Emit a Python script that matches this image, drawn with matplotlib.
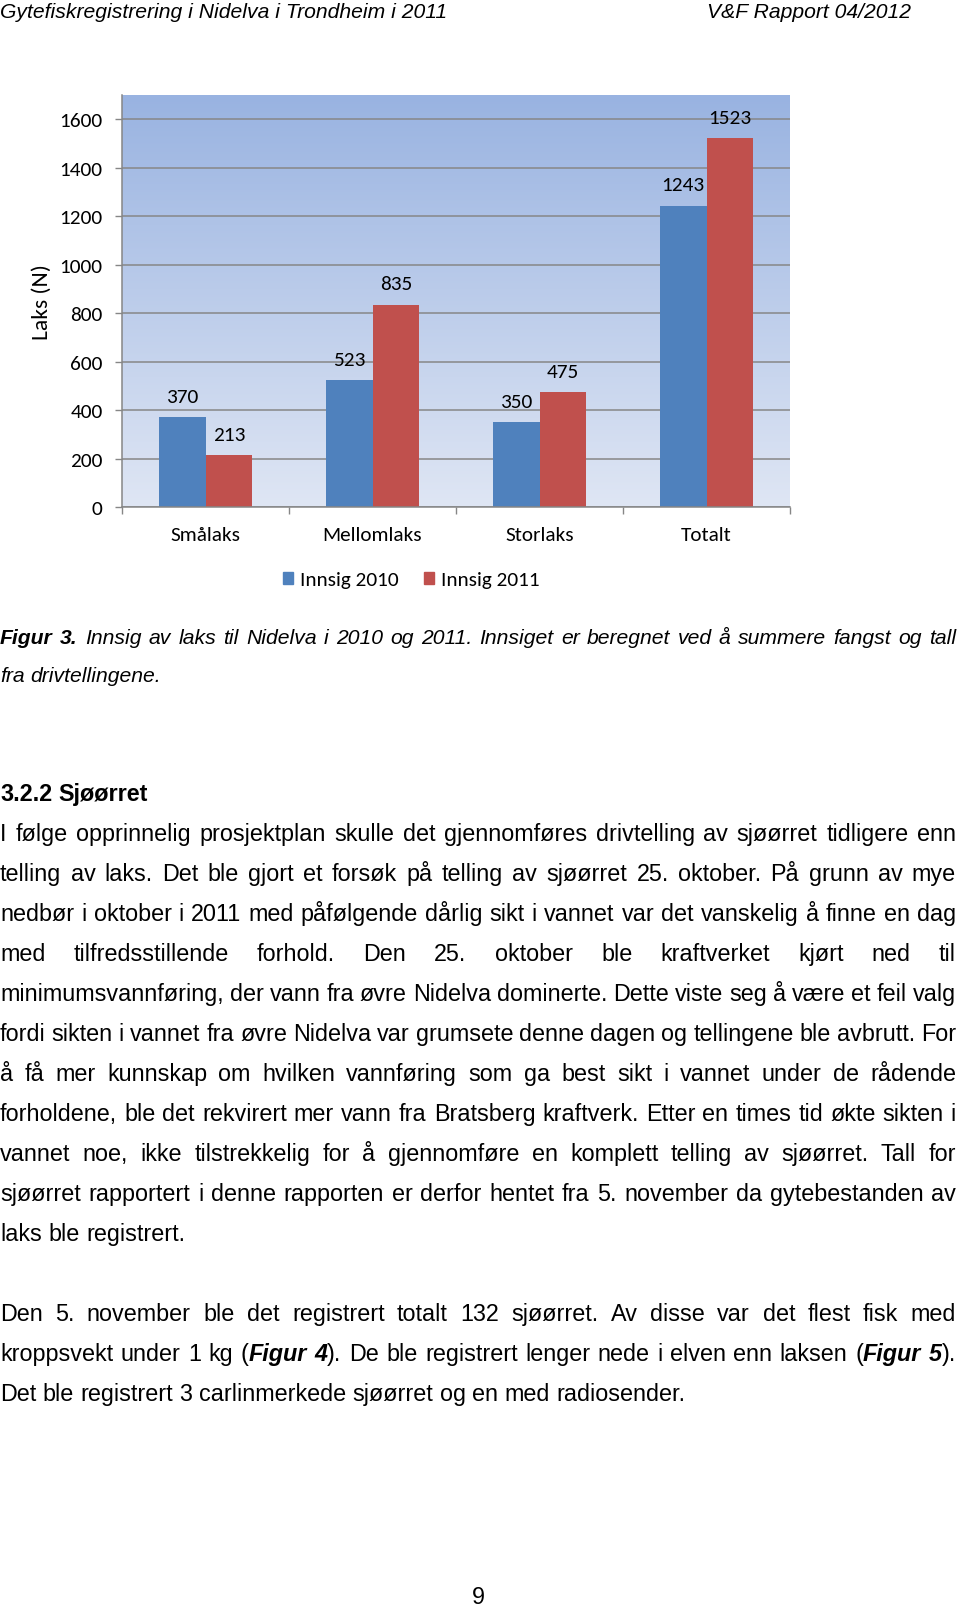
import numpy as np
import matplotlib
matplotlib.use("Agg")
import matplotlib.pyplot as plt
from matplotlib import font_manager
from matplotlib.colors import LinearSegmentedColormap
from matplotlib.patches import Patch

# chart data
categories = ['Smålaks', 'Mellomlaks', 'Storlaks', 'Totalt']
innsig_2010 = [370, 523, 350, 1243]
innsig_2011 = [213, 835, 475, 1523]
series_names = ['Innsig 2010', 'Innsig 2011']
y_ticks = [0, 200, 400, 600, 800, 1000, 1200, 1400, 1600]
y_label = 'Laks (N)'

# page text
header_left = 'Gytefiskregistrering i Nidelva i Trondheim i 2011'
header_right = 'V&F Rapport 04/2012'
caption_lines = [
    ('*Figur 3.* Innsig av laks til Nidelva i 2010 og 2011. Innsiget er beregnet ved å summere fangst og tall', True),
    ('fra drivtellingene.', False),
]
heading = '3.2.2 Sjøørret'
para1 = [
    ('I følge opprinnelig prosjektplan skulle det gjennomføres drivtelling av sjøørret tidligere enn', True),
    ('telling av laks. Det ble gjort et forsøk på telling av sjøørret 25. oktober. På grunn av mye', True),
    ('nedbør i oktober i 2011 med påfølgende dårlig sikt i vannet var det vanskelig å finne en dag', True),
    ('med tilfredsstillende forhold. Den 25. oktober ble kraftverket kjørt ned til', True),
    ('minimumsvannføring, der vann fra øvre Nidelva dominerte. Dette viste seg å være et feil valg', True),
    ('fordi sikten i vannet fra øvre Nidelva var grumsete denne dagen og tellingene ble avbrutt. For', True),
    ('å få mer kunnskap om hvilken vannføring som ga best sikt i vannet under de rådende', True),
    ('forholdene, ble det rekvirert mer vann fra Bratsberg kraftverk. Etter en times tid økte sikten i', True),
    ('vannet noe, ikke tilstrekkelig for å gjennomføre en komplett telling av sjøørret. Tall for', True),
    ('sjøørret rapportert i denne rapporten er derfor hentet fra 5. november da gytebestanden av', True),
    ('laks ble registrert.', False),
]
para2 = [
    ('Den 5. november ble det registrert totalt 132 sjøørret. Av disse var det flest fisk med', True),
    ('kroppsvekt under 1 kg (*Figur 4*). De ble registrert lenger nede i elven enn laksen (*Figur 5*).', True),
    ('Det ble registrert 3 carlinmerkede sjøørret og en med radiosender.', False),
]
page_number = '9'

W, H = 960, 1608
fig = plt.figure(figsize=(W / 100, H / 100), dpi=100)

installed = {f.name for f in font_manager.fontManager.ttflist}


def pick(options):
    for o in options:
        if o in installed:
            return o
    return options[-1]


body_font = pick(['Liberation Sans', 'Arimo', 'DejaVu Sans'])
chart_font = pick(['Carlito', 'Calibri', 'Lato'])
cs = 1.0 if chart_font != 'Lato' else 0.93  # sizes tuned for Calibri metrics

# ---- chart ----
ax = fig.add_axes([122 / W, 1 - 508 / H, (790 - 122) / W, (508 - 96) / H])
ymax = 1700
grad = np.linspace(0, 1, 256).reshape(-1, 1)
cmap = LinearSegmentedColormap.from_list('bg', ['#dfe6f4', '#99b3e1'])
ax.imshow(grad, extent=[-0.5, 3.5, 0, ymax], origin='lower', aspect='auto', cmap=cmap, zorder=0)

x = np.arange(len(categories))
bw = 0.28
b1 = ax.bar(x - bw / 2, innsig_2010, bw, color='#4f81bd', zorder=2)
b2 = ax.bar(x + bw / 2, innsig_2011, bw, color='#c0504d', zorder=2)
for bars, vals in [(b1, innsig_2010), (b2, innsig_2011)]:
    for r, v in zip(bars, vals):
        ax.annotate(str(v), (r.get_x() + r.get_width() / 2, v), xytext=(0, 15),
                    textcoords='offset points', ha='center', va='center',
                    fontsize=15.3 * cs, family=chart_font, color='black')

ax.set_xlim(-0.5, 3.5)
ax.set_ylim(0, ymax)
ax.set_yticks(y_ticks)
ax.set_yticklabels([str(t) for t in y_ticks], fontsize=15.3 * cs, family=chart_font)
ax.set_xticks(x)
ax.set_xticklabels(categories, fontsize=15.3 * cs, family=chart_font)
ax.set_xticks(np.arange(-0.5, 4, 1), minor=True)
ax.tick_params(axis='x', which='major', length=0, pad=13.5)
ax.tick_params(axis='x', which='minor', length=5, color='#868686', width=1)
ax.tick_params(axis='y', length=5, color='#868686', width=1, pad=9)
ax.grid(axis='y', color='#878787', linewidth=1.1)
for gl in ax.get_ygridlines():
    gl.set_zorder(1)
for s in ['top', 'right']:
    ax.spines[s].set_visible(False)
for s in ['left', 'bottom']:
    ax.spines[s].set_color('#868686')
    ax.spines[s].set_linewidth(1.1)
    ax.spines[s].set_zorder(3)

fig.text(42 / W, 1 - 302 / H, y_label, rotation=90, ha='center', va='center',
         fontsize=16.8 * cs, family=chart_font)

handles = [Patch(color='#4f81bd'), Patch(color='#c0504d')]
fig.legend(handles, series_names, loc='center', bbox_to_anchor=(411 / W, 1 - 581 / H),
           ncol=2, frameon=False, prop={'family': chart_font, 'size': 15.3 * cs},
           handlelength=0.5, handleheight=0.5, handletextpad=0.3, columnspacing=1.2)

# ---- page text ----
renderer = fig.canvas.get_renderer()
BODY = 16.8


def text_width(s, size, bold=False, italic=False):
    t = fig.text(0, 0, s, fontsize=size, family=body_font,
                 weight='bold' if bold else 'normal', style='italic' if italic else 'normal')
    w = t.get_window_extent(renderer).width
    t.remove()
    return w


def parse_words(line):
    # '*' toggles bold-italic emphasis; returns words as lists of (text, emphasised)
    words, cur, bold = [], [], False
    buf = ''
    for ch in line:
        if ch == '*':
            if buf:
                cur.append((buf, bold))
                buf = ''
            bold = not bold
        elif ch == ' ':
            if buf:
                cur.append((buf, bold))
                buf = ''
            if cur:
                words.append(cur)
                cur = []
        else:
            buf += ch
    if buf:
        cur.append((buf, bold))
    if cur:
        words.append(cur)
    return words


def draw_line(line, y, justify, size=BODY, italic=False, all_bold=False, x0=0, x1=956):
    words = parse_words(line)
    widths = []
    for w in words:
        widths.append([text_width(t, size, b or all_bold, italic or b) for t, b in w])
    space = text_width('a a', size, all_bold, italic) - text_width('aa', size, all_bold, italic)
    total = sum(sum(ws) for ws in widths)
    gap = (x1 - x0 - total) / (len(words) - 1) if justify and len(words) > 1 else space
    xpos = x0
    for w, ws in zip(words, widths):
        for (t, b), sw in zip(w, ws):
            fig.text(xpos / W, 1 - y / H, t, fontsize=size, family=body_font,
                     weight='bold' if (b or all_bold) else 'normal',
                     style='italic' if (italic or b) else 'normal', va='baseline', ha='left')
            xpos += sw
        xpos += gap


fig.text(0, 1 - 18 / H, header_left, fontsize=15.2, family=body_font, style='italic',
         va='baseline', ha='left')
fig.text(911 / W, 1 - 18 / H, header_right, fontsize=15.2, family=body_font, style='italic',
         va='baseline', ha='right')

off = 7
for i, (ln, j) in enumerate(caption_lines):
    draw_line(ln, 637 + off + 38 * i, j, size=15.2, italic=True)

draw_line(heading, 794 + off, False, all_bold=True)
for i, (ln, j) in enumerate(para1):
    draw_line(ln, 834 + off + 40 * i, j)
for i, (ln, j) in enumerate(para2):
    draw_line(ln, 1314 + off + 40 * i, j)

fig.text(478 / W, 1 - (1597 + off) / H, page_number, fontsize=BODY, family=body_font,
         va='baseline', ha='center')

fig.savefig('out.png', dpi=100)
